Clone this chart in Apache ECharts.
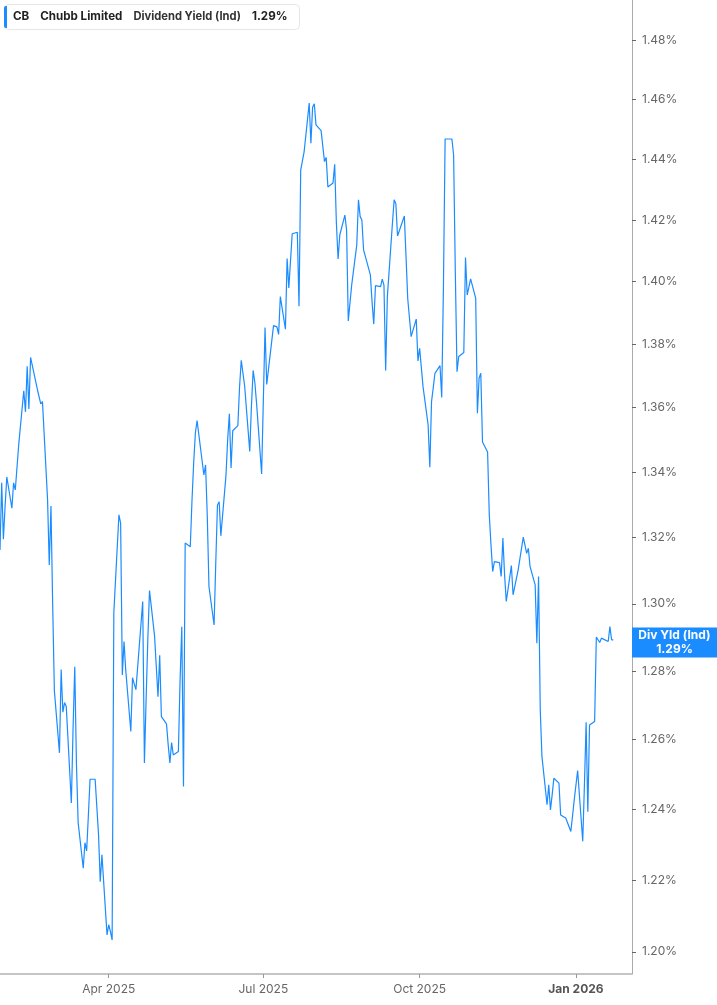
<!DOCTYPE html>
<html lang="en">
<head>
  <meta charset="UTF-8">
  <title>CB Dividend Yield (Ind)</title>
  <style>
    html, body { margin: 0; padding: 0; background: #fff; }
    #main { width: 717px; height: 1005px; }
  </style>
</head>
<body>
  <div id="main"></div>
  <script src="https://cdn.jsdelivr.net/npm/echarts@6.0.0/dist/echarts.min.js"></script>
  <script>
    // trading days shown: 27 Jan 2025 .. 23 Jan 2026 (NYSE closed on these)
    const firstDay = '2025-01-27'
    const lastDay = '2026-01-23'
    const holidays = ['2025-02-17', '2025-04-18', '2025-05-26', '2025-06-19', '2025-07-04',
      '2025-09-01', '2025-11-27', '2025-12-25', '2026-01-01', '2026-01-19']

    // dividend yield (ind), %, one value per trading day, month by month
    const jan25 = [1.3162, 1.3367, 1.3195, 1.3296, 1.3385]
    const feb25 = [1.3289, 1.3367, 1.3345, 1.3342, 1.3484, 1.3653, 1.3587, 1.3730, 1.3596, 1.3758,
      1.3657, 1.3659, 1.3612, 1.3619, 1.3315, 1.3117, 1.3296, 1.3000, 1.2743]
    const mar25 = [1.2562, 1.2805, 1.2680, 1.2708, 1.2697, 1.2418, 1.2632, 1.2813, 1.2530, 1.2362,
      1.2233, 1.2305, 1.2282, 1.2381, 1.2486, 1.2486, 1.2486, 1.2328, 1.2195, 1.2271, 1.2047]
    const apr25 = [1.2075, 1.2056, 1.2033, 1.2973, 1.3269, 1.3244, 1.2789, 1.2888, 1.2804, 1.2624,
      1.2781, 1.2763, 1.2746, 1.3007, 1.2533, 1.2716, 1.2893, 1.3040, 1.2903, 1.2813, 1.2725]
    const may25 = [1.2847, 1.2667, 1.2646, 1.2585, 1.2533, 1.2592, 1.2556, 1.2566, 1.2775, 1.2932,
      1.2465, 1.3183, 1.3172, 1.3312, 1.3428, 1.3521, 1.3560, 1.3391, 1.3422, 1.3266, 1.3052]
    const jun25 = [1.2937, 1.3123, 1.3299, 1.3309, 1.3205, 1.3389, 1.3500, 1.3581, 1.3413, 1.3528,
      1.3544, 1.3665, 1.3749, 1.3668, 1.3464, 1.3605, 1.3717, 1.3679, 1.3615, 1.3394]
    const jul25 = [1.3397, 1.3853, 1.3673, 1.3859, 1.3858, 1.3855, 1.3831, 1.3952, 1.3848, 1.4075,
      1.3980, 1.4067, 1.4155, 1.4160, 1.3921, 1.4364, 1.4364, 1.4424, 1.4587, 1.4453, 1.4573, 1.4585]
    const aug25 = [1.4514, 1.4495, 1.4497, 1.4392, 1.4406, 1.4308, 1.4321, 1.4383, 1.4190, 1.4073,
      1.4151, 1.4216, 1.4168, 1.3874, 1.3932, 1.3989, 1.4119, 1.4266, 1.4211, 1.4200, 1.4103]
    const sep25 = [1.4022, 1.3935, 1.3864, 1.3987, 1.3984, 1.4008, 1.3989, 1.3717, 1.3952, 1.4190,
      1.4266, 1.4253, 1.4148, 1.4164, 1.4213, 1.4080, 1.3945, 1.3941, 1.3824, 1.3880, 1.3747]
    const oct25 = [1.3787, 1.3787, 1.3666, 1.3546, 1.3415, 1.3619, 1.3662, 1.3708, 1.3732, 1.3632,
      1.3980, 1.4467, 1.4467, 1.4467, 1.4414, 1.4031, 1.3713, 1.3761, 1.3774, 1.4078, 1.3957,
      1.3954, 1.4009]
    const nov25 = [1.3947, 1.3583, 1.3693, 1.3708, 1.3493, 1.3462, 1.3269, 1.3177, 1.3097, 1.3127,
      1.3124, 1.3082, 1.3198, 1.3087, 1.3007, 1.3115, 1.3027, 1.3024, 1.3102]
    const dec25 = [1.3201, 1.3177, 1.3152, 1.3167, 1.3112, 1.3057, 1.2883, 1.3082, 1.2687, 1.2551,
      1.2413, 1.2470, 1.2398, 1.2441, 1.2489, 1.2475, 1.2384, 1.2380, 1.2375, 1.2337, 1.2381, 1.2427]
    const jan26 = [1.2511, 1.2309, 1.2470, 1.2651, 1.2393, 1.2643, 1.2653, 1.2901, 1.2893, 1.2885,
      1.2898, 1.2888, 1.2932, 1.2893, 1.2893]

    const yTicks = [1.20, 1.22, 1.24, 1.26, 1.28, 1.30, 1.32, 1.34, 1.36, 1.38, 1.40, 1.42, 1.44, 1.46, 1.48]
    const xTickDays = ['2025-04-01', '2025-07-01', '2025-10-01', '2026-01-01']
    const monthNames = ['Jan', 'Feb', 'Mar', 'Apr', 'May', 'Jun', 'Jul', 'Aug', 'Sep', 'Oct', 'Nov', 'Dec']

    function parseDay(s) {
      const p = s.split('-').map(Number)
      return new Date(p[0], p[1] - 1, p[2])
    }
    function dayKey(d) {
      return d.getFullYear() + '-' + String(d.getMonth() + 1).padStart(2, '0') + '-' + String(d.getDate()).padStart(2, '0')
    }

    const days = []
    for (let d = parseDay(firstDay); d <= parseDay(lastDay); d.setDate(d.getDate() + 1)) {
      const wd = d.getDay()
      if (wd === 0 || wd === 6 || holidays.includes(dayKey(d))) continue
      days.push(d.getTime())
    }

    const yieldPct = [].concat(jan25, feb25, mar25, apr25, may25, jun25, jul25, aug25, sep25, oct25, nov25, dec25, jan26)
    if (days.length !== yieldPct.length) console.warn('days/values mismatch', days.length, yieldPct.length)

    const last = yieldPct[yieldPct.length - 1]
    const lastText = last.toFixed(2) + '%'

    // the value axis is logarithmic: plot ln(yield) and label the ticks back in %
    const seriesData = days.map((t, i) => [t, Math.log(yieldPct[i])])
    const yTickLog = yTicks.map(v => Math.log(v))
    const xTicks = xTickDays.map(s => parseDay(s).getTime())

    const blue = '#1a8cff'
    const myChart = echarts.init(document.getElementById('main'))

    const option = {
      animation: false,
      textStyle: { fontFamily: 'Inter, "Noto Sans", sans-serif' },
      title: {
        left: 4,
        top: 4,
        padding: [2, 12, 2, 0],
        backgroundColor: '#fff',
        borderColor: '#e6e6e6',
        borderWidth: 1,
        borderRadius: 4,
        text: '{bar|}{sym|CB}{name|Chubb Limited}{metric|Dividend Yield (Ind)}{val|' + lastText + '}',
        textStyle: {
          rich: {
            bar: { width: 3, height: 22, backgroundColor: blue, borderRadius: [2, 0, 0, 2] },
            sym: { fontSize: 11.6, fontWeight: 'bold', color: '#222', padding: [0, 0, 0, 6] },
            name: { fontSize: 11.6, fontWeight: 'bold', color: '#222', padding: [0, 0, 0, 11] },
            metric: { fontSize: 11.2, color: '#333', padding: [0, 0, 0, 11] },
            val: { fontSize: 11.6, fontWeight: 'bold', color: '#222', padding: [0, 0, 0, 11] }
          }
        }
      },
      grid: { left: 0, right: 85, top: 0, bottom: 31, containLabel: false },
      // dates are plotted as timestamps on a plain value axis so the quarter ticks can be placed exactly
      xAxis: {
        type: 'value',
        min: parseDay(firstDay).getTime(),
        max: parseDay('2026-02-03').getTime(),
        axisLine: { lineStyle: { color: '#b3b3b3', width: 1.5 } },
        axisTick: { show: true, customValues: xTicks, length: 4, lineStyle: { color: '#999' } },
        axisLabel: {
          customValues: xTicks,
          color: '#666',
          fontSize: 12,
          margin: 9,
          formatter: function (value) {
            const d = new Date(value)
            const s = monthNames[d.getMonth()] + ' ' + d.getFullYear()
            return d.getMonth() === 0 ? '{yr|' + s + '}' : s
          },
          rich: { yr: { fontSize: 12, fontWeight: 'bold', color: '#555' } }
        },
        splitLine: { show: false }
      },
      yAxis: {
        type: 'value',
        position: 'right',
        min: Math.log(1.1939),
        max: Math.log(1.4937),
        axisLine: { show: true, lineStyle: { color: '#aaa' } },
        axisTick: { show: true, customValues: yTickLog, length: 4, lineStyle: { color: '#666' } },
        axisLabel: {
          customValues: yTickLog,
          color: '#666',
          fontSize: 12,
          margin: 10,
          formatter: v => Math.exp(v).toFixed(2) + '%'
        },
        splitLine: { show: false }
      },
      series: [
        {
          type: 'line',
          data: seriesData,
          showSymbol: false,
          symbol: 'none',
          lineStyle: { color: blue, width: 1.2 },
          itemStyle: { color: blue },
          markLine: {
            silent: true,
            animation: false,
            symbol: ['none', 'none'],
            lineStyle: { color: 'rgba(0,0,0,0)', width: 0 },
            label: {
              show: true,
              position: 'end',
              distance: 0,
              // the two-line box hangs below its anchor, lift it so it is centred on the value
              offset: [0, -15],
              backgroundColor: blue,
              padding: [1, 0, 1, 0],
              formatter: '{t|Div Yld (Ind)}\n{t|' + lastText + '}',
              rich: {
                t: { width: 85, align: 'center', color: '#fff', fontWeight: 'bold', fontSize: 12, lineHeight: 14 }
              }
            },
            data: [{ yAxis: Math.log(last) }]
          }
        }
      ]
    }

    myChart.setOption(option)
  </script>
</body>
</html>
